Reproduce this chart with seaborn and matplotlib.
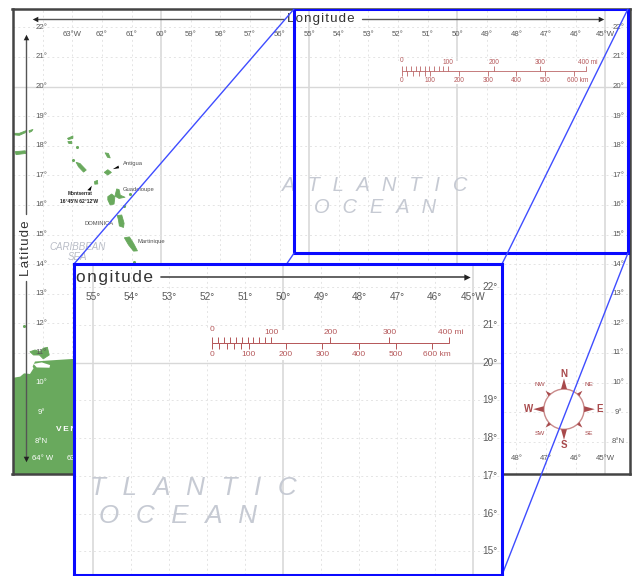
import matplotlib
matplotlib.use("Agg")
import matplotlib.pyplot as plt
from matplotlib.patches import Circle, ConnectionPatch, Polygon, Rectangle
import numpy as np
import seaborn as sns

sns.set_theme(style="white")
plt.rcParams["font.family"] = ["Liberation Sans", "DejaVu Sans"]

# map values, all lon / lat
lon_ticks = [-63, -62, -61, -60, -59, -58, -57, -56, -55, -54, -53, -52, -51, -50, -49, -48, -47, -46, -45]
lon_top_labels = ["63°W", "62°", "61°", "60°", "59°", "58°", "57°", "56°", "55°", "54°", "53°", "52°", "51°",
                  "50°", "49°", "48°", "47°", "46°", "45°W"]
lon_bottom_ticks = [-64, -63, -48, -47, -46, -45]
lon_bottom_labels = ["64° W", "63°", "48°", "47°", "46°", "45°W"]
lat_ticks = [22, 21, 20, 19, 18, 17, 16, 15, 14, 13, 12, 11, 10, 9, 8]
lat_labels = ["22°", "21°", "20°", "19°", "18°", "17°", "16°", "15°", "14°", "13°", "12°", "11°", "10°", "9°", "8°N"]
major_lons = [-60, -55, -50, -45]
major_lats = [20]

islands = [
    [(-61.80, 16.28), (-61.67, 16.37), (-61.56, 16.28), (-61.59, 16.03), (-61.72, 16.00), (-61.80, 16.17)],
    [(-61.56, 16.30), (-61.50, 16.54), (-61.42, 16.52), (-61.38, 16.33), (-61.22, 16.26), (-61.42, 16.22)],
    [(-61.48, 15.64), (-61.33, 15.66), (-61.25, 15.38), (-61.27, 15.24), (-61.41, 15.29), (-61.44, 15.49)],
    [(-61.24, 14.89), (-61.07, 14.92), (-60.93, 14.70), (-60.80, 14.45), (-60.93, 14.44), (-61.10, 14.65)],
    [(-61.92, 17.10), (-61.80, 17.19), (-61.68, 17.10), (-61.80, 17.01)],
    [(-62.87, 17.44), (-62.74, 17.40), (-62.53, 17.18), (-62.62, 17.11), (-62.79, 17.29)],
    [(-61.89, 17.76), (-61.78, 17.74), (-61.72, 17.59), (-61.81, 17.61)],
    [(-62.25, 16.79), (-62.15, 16.83), (-62.14, 16.71), (-62.24, 16.70)],
    [(-63.16, 18.25), (-62.98, 18.33), (-62.98, 18.25), (-63.13, 18.21)],
    [(-63.15, 18.14), (-63.02, 18.15), (-63.02, 18.07), (-63.12, 18.08)],
    [(-64.93, 17.80), (-64.59, 17.83), (-64.57, 17.74), (-64.90, 17.70)],
    [(-64.99, 18.42), (-64.79, 18.42), (-64.56, 18.51), (-64.59, 18.44), (-64.79, 18.35), (-64.99, 18.37)],
    [(-64.46, 18.51), (-64.33, 18.55), (-64.37, 18.49), (-64.45, 18.45)],
    [(-64.43, 11.04), (-64.26, 11.10), (-64.09, 11.04), (-63.98, 11.16), (-63.84, 11.19), (-63.78, 10.93),
     (-63.98, 10.80), (-64.11, 10.93), (-64.31, 10.93)],
]
islet_lons = [-62.85, -62.98, -61.27, -61.05, -60.93, -64.63]
islet_lats = [17.96, 17.52, 15.96, 16.36, 14.06, 11.91]
pointers = [
    [(-61.63, 17.21), (-61.44, 17.33), (-61.42, 17.24)],
    [(-62.49, 16.50), (-62.34, 16.65), (-62.38, 16.48)],
]
mainland = [(-65.3, 10.11), (-64.76, 10.20), (-64.63, 10.31), (-64.43, 10.29), (-64.31, 10.48), (-64.34, 10.54),
            (-64.26, 10.71), (-63.86, 10.74), (-62.94, 10.80), (-60.0, 10.80), (-60.0, 6.5), (-65.3, 6.5)]
lagoon = [(-64.31, 10.63), (-64.03, 10.68), (-63.75, 10.59), (-63.77, 10.50), (-64.20, 10.51)]

place_names = ["Antigua", "Guadeloupe", "Martinique", "DOMINICA"]
place_lons = [-61.30, -61.31, -60.79, -62.59]
place_lats = [17.41, 16.53, 14.78, 15.38]

scale_km = [0, 100, 200, 300, 400, 500, 600]
scale_km_minor = [20, 40, 60, 80]
scale_mi = [0, 100, 200, 300, 400]
scale_mi_minor = [10, 20, 30, 40, 50, 60, 70, 80, 90]
scale_km_labels = ["0", "100", "200", "300", "400", "500", "600 km"]
scale_mi_labels = ["0", "100", "200", "300", "400 mi"]
scale_lon0 = -51.87
deg_per_mi = 0.01558
deg_per_km = 0.00968
scale_lat = 20.53

compass_lon, compass_lat = -46.39, 9.10
compass_dirs = ["N", "NE", "E", "SE", "S", "SW", "W", "NW"]
compass_angles = [90, 45, 0, -45, -90, -135, 180, 135]

main_xlim = (-65.02, -44.16)
main_ylim = (6.91, 22.62)
zoom_xlim = (-55.51, -44.23)
zoom_ylim = (14.37, 22.62)

GREY = "#5a5a5a"
LAND = "#69a95d"
RED = "#b5585a"
SEA_TEXT = "#c6cad3"
BLUE = "#0a0aff"


def put(ax, x, y, s, **kw):
    # skip labels whose anchor is outside this view, the rest gets clipped by the axes
    x0, x1 = ax.get_xlim()
    y0, y1 = ax.get_ylim()
    if x0 <= x <= x1 and y0 <= y <= y1:
        kw.setdefault("ha", "center")
        kw.setdefault("va", "center")
        ax.text(x, y, s, clip_on=True, zorder=4, **kw)


def draw_map(ax, k=1.0):
    ax.set_facecolor("white")
    ax.set_xticks([])
    ax.set_yticks([])
    for lo in range(-64, -44):
        if lo in major_lons:
            ax.axvline(lo, color="#dcdcdc", lw=1.3, zorder=1)
        else:
            ax.axvline(lo, color="#e4e4e4", lw=0.7, ls=(0, (2, 3)), zorder=1)
    for la in lat_ticks:
        if la in major_lats:
            ax.axhline(la, color="#d8d8d8", lw=1.0, zorder=1)
        else:
            ax.axhline(la, color="#e4e4e4", lw=0.7, ls=(0, (2, 3)), zorder=1)

    # land
    ax.add_patch(Polygon(mainland, fc=LAND, ec="none", zorder=2))
    ax.add_patch(Polygon(lagoon, fc="white", ec="none", zorder=2))
    for isl in islands:
        ax.add_patch(Polygon(isl, fc=LAND, ec=LAND, lw=0.6, joinstyle="round", zorder=2))
    for p in pointers:
        ax.add_patch(Polygon(p, fc="black", ec="none", zorder=2))
    sns.scatterplot(x=islet_lons, y=islet_lats, color=LAND, s=5 * k, linewidth=0, ax=ax, zorder=2)

    # tick labels sit inside the map
    for lo, lab in zip(lon_ticks, lon_top_labels):
        put(ax, lo, 21.75, lab, fontsize=5.6 * k, color=GREY)
    for lo, lab in zip(lon_bottom_ticks, lon_bottom_labels):
        put(ax, lo, 7.42, lab, fontsize=5.6 * k, color="white" if lo < -60 else GREY)
    for la, lab in zip(lat_ticks, lat_labels):
        put(ax, -64.05, la, lab, fontsize=5.6 * k, color="white" if la < 11 else GREY)
        put(ax, -44.55, la, lab, fontsize=5.6 * k, color=GREY)

    # axis arrows
    arrow = "#555555"
    for xs, ys in [([-64.2, -55.85], [22.27, 22.27]), ([-53.22, -45.2], [22.27, 22.27]),
                   ([-64.57, -64.57], [21.6, 15.68]), ([-64.57, -64.57], [13.42, 7.5])]:
        sns.lineplot(x=xs, y=ys, color=arrow, lw=1.0 * k, sort=False, estimator=None, ax=ax, zorder=4)
    ax.scatter([-64.26], [22.27], marker="<", s=16 * k, color="#222222", lw=0, zorder=4)
    ax.scatter([-45.15], [22.27], marker=">", s=16 * k, color="#222222", lw=0, zorder=4)
    ax.scatter([-64.57], [21.69], marker="^", s=16 * k, color="#222222", lw=0, zorder=4)
    ax.scatter([-64.57], [7.42], marker="v", s=16 * k, color="#222222", lw=0, zorder=4)
    put(ax, -54.6, 22.27, "\u200a".join("Longitude"), fontsize=9.6 * k, color="#333333")
    put(ax, -64.57, 14.55, "\u200a".join("Latitude"), rotation=90, fontsize=9.6 * k, color="#333333")

    # place names
    for name, lo, la in zip(place_names, place_lons, place_lats):
        put(ax, lo, la, name, ha="left", fontsize=4.2 * k, color="#4f4f4f")
    put(ax, -62.74, 16.37, "Montserrat", fontsize=3.4 * k, weight="bold", color="#222222")
    put(ax, -62.77, 16.12, "16°45'N 62°12'W", fontsize=3.6 * k, weight="bold", color="#222222")
    put(ax, -62.82, 14.59, "CARIBBEAN", style="italic", fontsize=7 * k, color="#b9bdc7")
    put(ax, -62.82, 14.23, "SEA", style="italic", fontsize=7 * k, color="#b9bdc7")
    put(ax, -63.55, 8.4, "\u2009".join("VENEZUELA"), ha="left", fontsize=6 * k, weight="bold", color="white")
    put(ax, -52.8, 16.67, "  \u200a".join("ATLANTIC"), style="italic", fontsize=14.5 * k, color=SEA_TEXT)
    put(ax, -52.77, 15.93, "  \u200a".join("OCEAN"), style="italic", fontsize=14.5 * k, color=SEA_TEXT)

    # scale bar, white box hides the grid behind it
    x_mi = scale_lon0 + np.array(scale_mi) * deg_per_mi
    x_mi_minor = scale_lon0 + np.array(scale_mi_minor) * deg_per_mi
    x_km = scale_lon0 + np.array(scale_km) * deg_per_km
    x_km_minor = scale_lon0 + np.array(scale_km_minor) * deg_per_km
    ax.add_patch(Rectangle((scale_lon0 - 0.15, 20.08), 6.9, 0.8, fc="white", ec="none", zorder=2))
    lw = 0.55 * k
    tick = 0.16
    ax.plot([x_mi[0], x_mi[-1]], [scale_lat, scale_lat], color=RED, lw=lw, zorder=4)
    ax.vlines(x_mi, scale_lat, scale_lat + tick, color=RED, lw=lw, zorder=4)
    ax.vlines(x_mi_minor, scale_lat, scale_lat + tick, color=RED, lw=lw, zorder=4)
    ax.vlines(x_km, scale_lat - tick, scale_lat, color=RED, lw=lw, zorder=4)
    ax.vlines(x_km_minor, scale_lat - tick, scale_lat, color=RED, lw=lw, zorder=4)
    for xv, lab in zip(x_mi, scale_mi_labels):
        ha = "left" if lab.endswith("mi") else "center"
        dx = -0.28 if lab.endswith("mi") else 0
        la = scale_lat + 0.34 if lab == "0" else scale_lat + 0.28
        put(ax, xv + dx, la, lab, ha=ha, fontsize=4.7 * k, color=RED)
    for xv, lab in zip(x_km, scale_km_labels):
        ha = "left" if lab.endswith("km") else "center"
        dx = -0.24 if lab.endswith("km") else 0
        put(ax, xv + dx, scale_lat - 0.32, lab, ha=ha, fontsize=4.7 * k, color=RED)

    # compass
    r = 0.68
    ax.add_patch(Circle((compass_lon, compass_lat), r, fc="white", ec="#c98a8a", lw=1.0 * k, zorder=3))
    for name, ang in zip(compass_dirs, compass_angles):
        a = np.deg2rad(ang)
        ux, uy = np.cos(a), np.sin(a)
        px, py = -uy, ux
        big = len(name) == 1
        tip = 0.36 if big else 0.2
        w = 0.1 if big else 0.06
        tri = [(compass_lon + r * ux + w * px, compass_lat + r * uy + w * py),
               (compass_lon + r * ux - w * px, compass_lat + r * uy - w * py),
               (compass_lon + (r + tip) * ux, compass_lat + (r + tip) * uy)]
        ax.add_patch(Polygon(tri, fc="#a84a4c", ec="none", zorder=3))
        d = 1.2 if big else 1.17
        put(ax, compass_lon + d * ux, compass_lat + d * uy, name, fontsize=(7 if big else 4.6) * k,
            weight="bold" if big else "normal", color="#a84a4c")


W, H = 634, 576
fig = plt.figure(figsize=(W / 100, H / 100), dpi=100, facecolor="white")

ax_main = fig.add_axes([12.5 / W, 1 - 474 / H, (630 - 12.5) / W, (474 - 9) / H], zorder=1)
ax_main.set_xlim(main_xlim)
ax_main.set_ylim(main_ylim)
draw_map(ax_main)
ax_main.set_xlim(main_xlim)
ax_main.set_ylim(main_ylim)
for s in ax_main.spines.values():
    s.set_visible(True)
    s.set_color("#444444")
    s.set_linewidth(1.8)

# source rectangle of the zoom
ax_main.add_patch(Rectangle((zoom_xlim[0], zoom_ylim[0]), zoom_xlim[1] - zoom_xlim[0], zoom_ylim[1] - zoom_ylim[0],
                            fc="none", ec=BLUE, lw=2.2, zorder=6))

ax_zoom = fig.add_axes([74 / W, 1 - 575 / H, (502 - 74) / W, (575 - 264) / H], zorder=3)
ax_zoom.set_xlim(zoom_xlim)
ax_zoom.set_ylim(zoom_ylim)
draw_map(ax_zoom, k=1.29)
ax_zoom.set_xlim(zoom_xlim)
ax_zoom.set_ylim(zoom_ylim)
for s in ax_zoom.spines.values():
    s.set_visible(True)
    s.set_color(BLUE)
    s.set_linewidth(2.2)

# connectors between matching corners
for cx in zoom_xlim:
    for cy in zoom_ylim:
        con = ConnectionPatch(xyA=(cx, cy), coordsA=ax_main.transData, xyB=(cx, cy), coordsB=ax_zoom.transData,
                              color="#3f4dff", lw=1.0, zorder=2)
        fig.add_artist(con)

fig.savefig("out.png", dpi=100, facecolor="white")
